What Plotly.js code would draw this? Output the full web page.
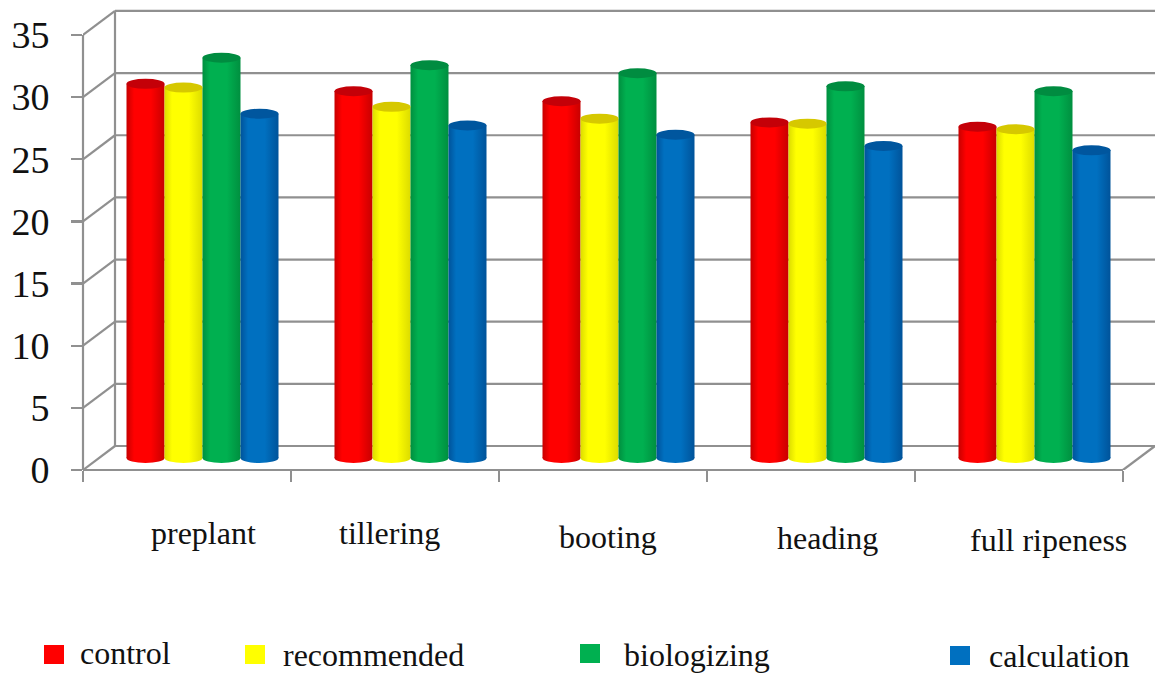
<!DOCTYPE html>
<html>
<head>
<meta charset="utf-8">
<script src="https://cdn.plot.ly/plotly-3.0.1.min.js"></script>
<style>html,body{margin:0;padding:0;background:#fff}#chart{width:1155px;height:673px}</style>
</head>
<body>
<div id="chart"></div>
<script>
var stages = ['preplant', 'tillering', 'booting', 'heading', 'full ripeness'];
var control = [30.1, 29.5, 28.7, 27.0, 26.65];
var recommended = [29.8, 28.25, 27.3, 26.9, 26.45];
var biologizing = [32.2, 31.6, 30.95, 29.9, 29.5];
var calculation = [27.7, 26.75, 26.0, 25.1, 24.75];
var seriesNames = ['control', 'recommended', 'biologizing', 'calculation'];
var yTicks = [0, 5, 10, 15, 20, 25, 30, 35];

var seriesValues = [control, recommended, biologizing, calculation];
var palette = [
  {edge: '#c80000', mid: '#ff0000', cap: '#c40008'},
  {edge: '#dcdc00', mid: '#ffff00', cap: '#d6c800'},
  {edge: '#008f3f', mid: '#00b050', cap: '#008c40'},
  {edge: '#00539a', mid: '#0070c0', cap: '#00569e'}
];
var GRID = '#909090';
var GRID_W = 2.2;

// Frame geometry in pixels
var L = 83, T = 9, R = 0, B = 203, W = 1155, H = 673;
var CAT = 208, UNIT = 12.43;
var DX = 32 / CAT, DY = 24 / UNIT;
var X0 = -0.5, XMAX = X0 + (W - L - R) / CAT, YMAX = (H - B - T) / UNIT;
var BASE = 12 / UNIT, BAR = 38 / CAT, START = -60.5 / CAT, CAP = 5 / UNIT;

function px(x) { return (x - L) / (W - L - R); }
function py(y) { return 1 - (y - T) / (H - T - B); }
function line(x0, y0, x1, y1, xr, yr) {
  return {type: 'line', layer: 'below', xref: xr || 'x', yref: yr || 'y', x0: x0, y0: y0, x1: x1, y1: y1,
          line: {color: GRID, width: GRID_W}};
}

var shapes = [];
// Back wall, side wall
yTicks.forEach(function (v) {
  shapes.push(line(X0 + DX, v + DY, XMAX, v + DY));
  shapes.push(line(X0, v, X0 + DX, v + DY));
});
shapes.push(line(X0 + DX, DY, X0 + DX, 35 + DY));
// Front axes and floor edge
shapes.push(line(0, 0, 0, 35, 'paper', 'y'));
shapes.push(line(X0, 0, X0 + 5, 0, 'x', 'paper'));
shapes.push(line(X0 + 5, 0, X0 + 5 + DX, DY));

var fillMap = [];
var traces = seriesNames.map(function (name, k) {
  var off = START + k * BAR;
  seriesValues[k].forEach(function (v, i) {
    var bx0 = i + off, bx1 = bx0 + BAR;
    fillMap[shapes.length] = 'body' + k;
    shapes.push({type: 'circle', layer: 'below', xref: 'x', yref: 'y', x0: bx0, x1: bx1,
                 y0: BASE - CAP, y1: BASE + CAP, line: {width: 0}, fillcolor: palette[k].mid});
  });
  return {
    type: 'bar', name: name, x: stages, y: seriesValues[k],
    base: stages.map(function () { return BASE; }),
    offset: off, width: BAR, marker: {color: palette[k].mid, line: {width: 0}},
    showlegend: false, hoverinfo: 'x+y+name'
  };
});
// Cylinder tops
seriesValues.forEach(function (vals, k) {
  vals.forEach(function (v, i) {
    var bx0 = i + START + k * BAR;
    shapes.push({type: 'circle', layer: 'above', xref: 'x', yref: 'y', x0: bx0, x1: bx0 + BAR,
                 y0: v + BASE - CAP, y1: v + BASE + CAP, line: {width: 0}, fillcolor: palette[k].cap});
  });
});

// Legend swatches
var swatchX = [44, 245, 580, 950], swatchY = [645, 645, 644, 646];
seriesNames.forEach(function (n, k) {
  shapes.push({type: 'rect', layer: 'above', xref: 'paper', yref: 'paper',
    x0: px(swatchX[k]), x1: px(swatchX[k] + 20), y0: py(swatchY[k]), y1: py(swatchY[k] + 19),
    line: {width: 0}, fillcolor: palette[k].mid});
});

var FONT = 'Liberation Serif, Times New Roman, serif';
var annotations = [];
var labelX = [203, 389, 608, 827, 1048], labelY = [533, 533, 537, 538, 540];
stages.forEach(function (s, i) {
  annotations.push({text: s, xref: 'paper', yref: 'paper', x: px(labelX[i]), y: py(labelY[i]),
    xanchor: 'center', yanchor: 'middle', showarrow: false, font: {family: FONT, size: 32, color: '#111'}});
});
var legendX = [80, 283, 624, 989], legendY = [653, 655, 655, 656];
seriesNames.forEach(function (n, k) {
  annotations.push({text: n, xref: 'paper', yref: 'paper', x: px(legendX[k]), y: py(legendY[k]),
    xanchor: 'left', yanchor: 'middle', xshift: -2, showarrow: false, font: {family: FONT, size: 32, color: '#111'}});
});

var layout = {
  width: W, height: H, margin: {l: L, r: R, t: T, b: B, pad: 0},
  paper_bgcolor: '#fff', plot_bgcolor: '#fff', showlegend: false, barmode: 'overlay',
  xaxis: {type: 'category', categoryorder: 'array', categoryarray: stages, range: [X0, XMAX],
          tickson: 'boundaries', ticks: 'outside', ticklen: 11, tickwidth: GRID_W, tickcolor: GRID,
          showticklabels: false, showgrid: false, zeroline: false, showline: false},
  yaxis: {range: [0, YMAX], tickvals: yTicks, ticktext: yTicks.map(String), ticks: 'outside', ticklen: 11,
          tickwidth: GRID_W, tickcolor: GRID, ticklabelstandoff: 14, ticklabelshift: -1.5, showgrid: false, zeroline: false, showline: false,
          tickfont: {family: FONT, size: 38, color: '#111'}},
  shapes: shapes, annotations: annotations
};

Plotly.newPlot('chart', traces, layout, {displayModeBar: false, staticPlot: true}).then(function (gd) {
  var svg = gd.querySelector('svg.main-svg');
  var NS = 'http://www.w3.org/2000/svg';
  var defs = document.createElementNS(NS, 'defs');
  palette.forEach(function (p, k) {
    var g = document.createElementNS(NS, 'linearGradient');
    g.setAttribute('id', 'body' + k);
    g.setAttribute('x1', '0'); g.setAttribute('x2', '1'); g.setAttribute('y1', '0'); g.setAttribute('y2', '0');
    [[0, p.edge], [0.2, p.mid], [0.64, p.mid], [1, p.edge]].forEach(function (st) {
      var s = document.createElementNS(NS, 'stop');
      s.setAttribute('offset', st[0]); s.setAttribute('stop-color', st[1]);
      g.appendChild(s);
    });
    defs.appendChild(g);
  });
  svg.insertBefore(defs, svg.firstChild);
  gd.querySelectorAll('.barlayer .trace').forEach(function (tr, k) {
    tr.querySelectorAll('path').forEach(function (p) { p.style.fill = 'url(#body' + k + ')'; });
  });
  gd.querySelectorAll('.shapelayer path').forEach(function (p) {
    var idx = +p.getAttribute('data-index');
    if (fillMap[idx]) p.style.fill = 'url(#' + fillMap[idx] + ')';
  });
});
</script>
</body>
</html>
